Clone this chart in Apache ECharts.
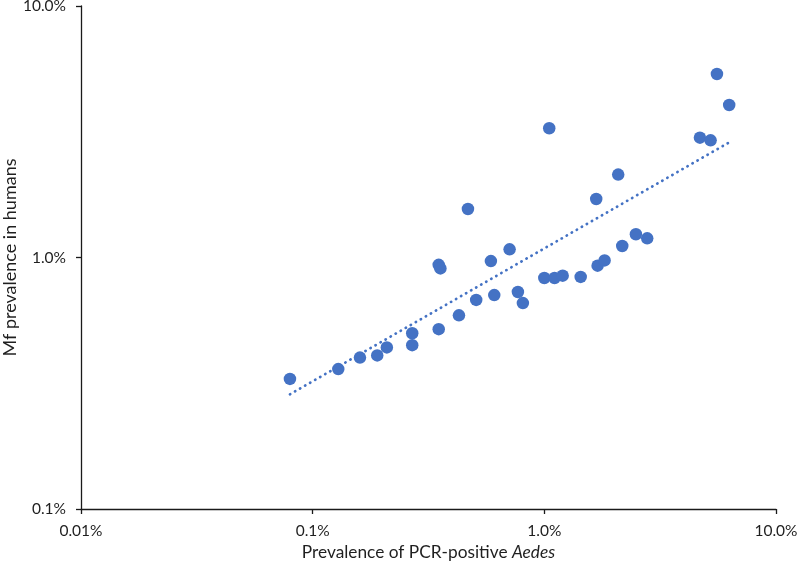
<!DOCTYPE html>
<html>
<head>
<meta charset="utf-8">
<script src="https://cdn.jsdelivr.net/npm/echarts@6/dist/echarts.min.js"></script>
<style>
html,body{margin:0;padding:0;background:#fff;}
#chart{width:797px;height:568px;}
</style>
</head>
<body>
<div id="chart"></div>
<script>
// Prevalence of PCR-positive Aedes (%) and Mf prevalence in humans (%)
var aedesPct = [0.0798, 0.129, 0.160, 0.190, 0.209, 0.269, 0.269, 0.350, 0.428, 0.508, 0.608, 0.769, 0.808,
  0.350, 0.356, 0.588, 0.708, 0.468, 1.05, 1.00, 1.107, 1.20, 1.435, 1.698, 1.820, 1.675, 2.084,
  2.169, 2.485, 2.78, 4.695, 5.22, 5.56, 6.28];
var mfPct = [0.329, 0.360, 0.400, 0.408, 0.439, 0.448, 0.500, 0.519, 0.589, 0.678, 0.709, 0.729, 0.659,
  0.935, 0.905, 0.968, 1.078, 1.559, 3.264, 0.829, 0.829, 0.847, 0.837, 0.928, 0.974, 1.709, 2.136,
  1.111, 1.237, 1.192, 2.996, 2.924, 5.365, 4.04];
// Power trendline end points
var trendX = [0.0798, 6.28];
var trendY = [0.2858, 2.87];
var xTickLabels = ['0.01%', '0.1%', '1.0%', '10.0%'];
var yTickLabels = ['0.1%', '1.0%', '10.0%'];

var points = aedesPct.map(function (x, i) { return [x, mfPct[i]]; });
var trend = trendX.map(function (x, i) { return [x, trendY[i]]; });

var font = 'Lato, "Open Sans", sans-serif';
var txtColor = '#1f1f1f';

function labelFor(arr, minExp) {
  return function (v) {
    var e = Math.round(Math.log10(v));
    return arr[e - minExp] || '';
  };
}

var chart = echarts.init(document.getElementById('chart'), null, {renderer: 'canvas'});
chart.setOption({
  animation: false,
  grid: {left: 81, right: 21, top: 6, bottom: 59, containLabel: false, outerBoundsMode: 'none'},
  xAxis: {
    type: 'log', logBase: 10, min: 0.01, max: 10,
    splitLine: {show: false},
    axisLine: {show: true, onZero: false, lineStyle: {color: '#1a1a1a', width: 1.3}},
    axisTick: {show: true, length: 5, lineStyle: {color: '#1a1a1a', width: 1.3}},
    minorTick: {show: false},
    axisLabel: {margin: 14, color: txtColor, fontFamily: font, fontSize: 15.5, formatter: labelFor(xTickLabels, -2)},
    name: '{a|Prevalence of PCR-positive }{b|Aedes}',
    nameLocation: 'middle', nameGap: 35, nameMoveOverlap: false,
    nameTextStyle: {
      rich: {
        a: {color: txtColor, fontFamily: font, fontSize: 17.3},
        b: {color: txtColor, fontFamily: font, fontSize: 17.3, fontStyle: 'italic'}
      }
    }
  },
  yAxis: {
    type: 'log', logBase: 10, min: 0.1, max: 10,
    splitLine: {show: false},
    axisLine: {show: true, onZero: false, lineStyle: {color: '#1a1a1a', width: 1.3}},
    axisTick: {show: true, length: 5, lineStyle: {color: '#1a1a1a', width: 1.3}},
    axisLabel: {margin: 15, color: txtColor, fontFamily: font, fontSize: 15.5, formatter: labelFor(yTickLabels, -1)},
    name: 'Mf prevalence in humans',
    nameLocation: 'middle', nameGap: 62, nameRotate: 90, nameMoveOverlap: false,
    nameTextStyle: {color: txtColor, fontFamily: font, fontSize: 18}
  },
  series: [
    {
      type: 'line', data: trend, symbol: 'none', silent: true,
      lineStyle: {color: '#4472C4', width: 2.7, type: [0.3, 5.5], cap: 'round'},
      z: 1
    },
    {
      type: 'scatter', data: points, symbol: 'circle', symbolSize: 12.5,
      itemStyle: {color: '#4472C4', opacity: 1},
      z: 2
    }
  ]
});
</script>
</body>
</html>
